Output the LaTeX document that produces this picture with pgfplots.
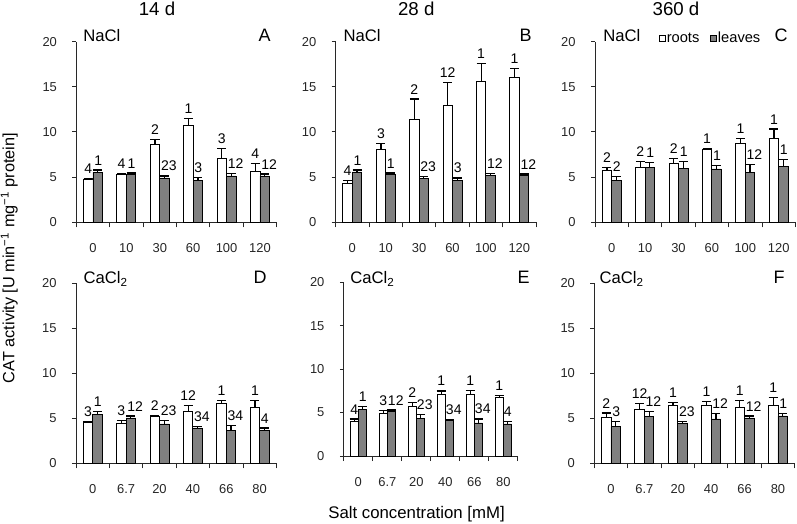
\documentclass[border=0pt]{standalone}
\usepackage{fontspec}
\setmainfont{Liberation Sans}
\usepackage{pgfplots}
\pgfplotsset{compat=1.18}
\usepackage{pgfplotstable}

\pgfplotstableread{
x r re g ge rl gl
0 4.76 0.10 5.53 0.26 4 1
1 5.31 0.08 5.35 0.10 4 1
2 8.67 0.52 4.91 0.22 2 23
3 10.74 0.74 4.61 0.33 1 3
4 7.05 1.14 5.13 0.30 3 12
5 5.61 0.92 5.13 0.22 4 12
}\tabA
\pgfplotstableread{
x r re g ge rl gl
0 4.32 0.30 5.57 0.22 4 1
1 8.08 0.67 5.35 0.10 3 1
2 11.44 2.21 4.87 0.18 2 23
3 12.95 2.55 4.61 0.30 12 3
4 15.65 1.95 5.17 0.26 1 12
5 16.01 1.03 5.17 0.18 1 12
}\tabB
\pgfplotstableread{
x r re g ge rl gl
0 5.75 0.33 4.64 0.44 2 2
1 6.05 0.70 6.05 0.60 2 1
2 6.49 0.60 5.97 0.78 2 1
3 8.05 0.10 5.90 0.41 1 1
4 8.76 0.56 5.53 0.85 1 12
5 9.28 1.04 6.20 0.74 1 1
}\tabC
\pgfplotstableread{
x r re g ge rl gl
0 4.56 0.10 5.44 0.30 3 1
1 4.44 0.33 5.04 0.22 3 12
2 5.22 0.11 4.37 0.37 2 23
3 5.81 0.59 3.93 0.19 12 34
4 6.63 0.33 3.70 0.52 1 34
5 6.22 0.74 3.63 0.30 1 4
}\tabD
\pgfplotstableread{
x r re g ge rl gl
0 4.03 0.23 5.41 0.31 4 1
1 4.91 0.35 5.11 0.19 3 12
2 5.76 0.42 4.34 0.46 2 23
3 7.14 0.35 4.07 0.15 1 34
4 7.14 0.42 3.80 0.46 1 34
5 6.76 0.19 3.69 0.31 1 4
}\tabE
\pgfplotstableread{
x r re g ge rl gl
0 5.15 0.44 4.07 0.56 2 3
1 6.04 0.59 5.19 0.56 12 12
2 6.48 0.30 4.48 0.19 1 23
3 6.48 0.41 4.93 0.59 1 12
4 6.22 0.74 5.04 0.22 1 12
5 6.48 0.81 5.26 0.26 1 1
}\tabF

\definecolor{barg}{RGB}{128,128,128}
\definecolor{axc}{RGB}{40,40,40}

\pgfplotsset{
  panel/.style={
    scale only axis, anchor=south west,
    width=150.3pt, height=135.45pt,
    xmin=-0.5, xmax=5.5, ymin=0, ymax=20,
    ytick={0,5,10,15,20},
    xtick={0,1,2,3,4,5},
    minor xtick={-0.5,0.5,1.5,2.5,3.5,4.5,5.5},
    axis x line*=bottom, axis y line*=left,
    axis line style={-, axc, line width=0.7pt},
    tick style={axc, line width=0.7pt},
    major x tick style={draw=none},
    tick align=outside,
    major tick length=3pt, minor tick length=3.8pt,
    ybar=0pt, bar width=0.285,
    clip=false,
    /pgf/number format/assume math mode=true,
    tick label style={font=\fontsize{9.7}{11}\selectfont, text=black!85},
    xticklabel shift=9.5pt,
    yticklabel shift=8pt,
  },
  rb/.style={bar shift=-0.1425, fill=white, draw=black, line width=0.6pt,
    legend image code/.code={\draw[fill=white,draw=black,line width=0.5pt] (0pt,-2.2pt) rectangle (4.4pt,2.2pt);},
    error bars/.cd, y dir=plus, y explicit, error mark=|,
    error bar style={line width=0.9pt, black},
    error mark options={mark size=3.4pt, line width=0.9pt, black}},
  gb/.style={bar shift=0.1425, fill=barg, draw=black, line width=0.6pt,
    legend image code/.code={\draw[fill=barg,draw=black,line width=0.5pt] (0pt,-2.2pt) rectangle (4.4pt,2.2pt);},
    error bars/.cd, y dir=plus, y explicit, error mark=|,
    error bar style={line width=0.9pt, black},
    error mark options={mark size=3.4pt, line width=0.9pt, black}},
  rlab/.style={bar shift=-0.1425, draw=none, fill=none, forget plot,
    nodes near coords, point meta=explicit symbolic,
    nodes near coords style={font=\fontsize{10.5}{12}\selectfont, text=black, inner sep=1.5pt, anchor=south, yshift=2pt}},
  glab/.style={bar shift=0.1425, draw=none, fill=none, forget plot,
    nodes near coords, point meta=explicit symbolic,
    nodes near coords style={font=\fontsize{10.5}{12}\selectfont, text=black, inner sep=1.5pt, anchor=south west, xshift=-4.3pt, yshift=2pt}},
}

\newcommand{\panelplots}[1]{%
  \addplot[rb] table[x=x,y=r,y error=re]{#1};
  \addplot[gb] table[x=x,y=g,y error=ge]{#1};
  \addplot[rlab] table[x=x,y expr=\thisrow{r}+\thisrow{re},meta=rl]{#1};
  \addplot[glab] table[x=x,y expr=\thisrow{g}+\thisrow{ge},meta=gl]{#1};
}

\newcommand{\bigf}{\fontsize{12.5}{14}\selectfont}

\begin{document}
\begin{tikzpicture}
\path[use as bounding box] (0,0) rectangle (597.75pt,393pt);

% top row
\begin{axis}[panel, at={(57.2pt,226.3pt)}, xticklabels={0,10,30,60,100,120}]
\panelplots{\tabA}
\end{axis}
\begin{axis}[panel, at={(251.7pt,226.3pt)}, xticklabels={0,10,30,60,100,120}]
\panelplots{\tabB}
\end{axis}
\begin{axis}[panel, at={(446.25pt,226.3pt)}, xticklabels={0,10,30,60,100,120},
  legend columns=2,
  legend style={at={(rel axis cs:0.319,1.017)}, anchor=west, draw=none, fill=none,
    inner sep=0pt, outer sep=0pt, font=\fontsize{11}{12}\selectfont,
    nodes={inner sep=1pt},
    /tikz/every even column/.append style={column sep=7pt}}]
\panelplots{\tabC}
\legend{roots,leaves}
\end{axis}

% bottom row
\begin{axis}[panel, at={(57pt,45.5pt)}, height=135pt, xticklabels={0,6.7,20,40,66,80}]
\panelplots{\tabD}
\end{axis}
\begin{axis}[panel, at={(257.85pt,51pt)}, width=130.5pt, height=130.3pt, xticklabels={0,6.7,20,40,66,80}]
\panelplots{\tabE}
\end{axis}
\begin{axis}[panel, at={(445.7pt,45.5pt)}, height=135pt, xticklabels={0,6.7,20,40,66,80}]
\panelplots{\tabF}
\end{axis}

% titles
\node[font=\fontsize{14}{16}\selectfont] at (117.75pt,386.25pt) {14 d};
\node[font=\fontsize{14}{16}\selectfont] at (312.2pt,386.25pt) {28 d};
\node[font=\fontsize{14}{16}\selectfont] at (507pt,386.25pt) {360 d};

% salt names
\node[font=\bigf, anchor=base west, inner sep=0pt] at (62.25pt,361.7pt) {NaCl};
\node[font=\bigf, anchor=base west, inner sep=0pt] at (257.5pt,361.7pt) {NaCl};
\node[font=\bigf, anchor=base west, inner sep=0pt] at (452.25pt,361.7pt) {NaCl};
\node[font=\bigf, anchor=base west, inner sep=0pt] at (62.5pt,180.4pt) {CaCl\textsubscript{2}};
\node[font=\bigf, anchor=base west, inner sep=0pt] at (262.5pt,180.4pt) {CaCl\textsubscript{2}};
\node[font=\bigf, anchor=base west, inner sep=0pt] at (449.5pt,180.4pt) {CaCl\textsubscript{2}};

% panel letters
\node[font=\fontsize{13.5}{15}\selectfont, anchor=base east, inner sep=0pt] at (203.25pt,361.5pt) {A};
\node[font=\fontsize{13.5}{15}\selectfont, anchor=base east, inner sep=0pt] at (399pt,361.5pt) {B};
\node[font=\fontsize{13.5}{15}\selectfont, anchor=base east, inner sep=0pt] at (591pt,361.5pt) {C};
\node[font=\fontsize{13.5}{15}\selectfont, anchor=base east, inner sep=0pt] at (200.25pt,180pt) {D};
\node[font=\fontsize{13.5}{15}\selectfont, anchor=base east, inner sep=0pt] at (397.5pt,180pt) {E};
\node[font=\fontsize{13.5}{15}\selectfont, anchor=base east, inner sep=0pt] at (588.75pt,180pt) {F};

% axis labels
\node[rotate=90, font=\fontsize{12.2}{14}\selectfont] at (6.9pt,199.5pt) {CAT activity [U min\textsuperscript{−1} mg\textsuperscript{−1} protein]};
\node[font=\fontsize{12.6}{14}\selectfont] at (312.4pt,7.5pt) {Salt concentration [mM]};
\end{tikzpicture}
\end{document}
